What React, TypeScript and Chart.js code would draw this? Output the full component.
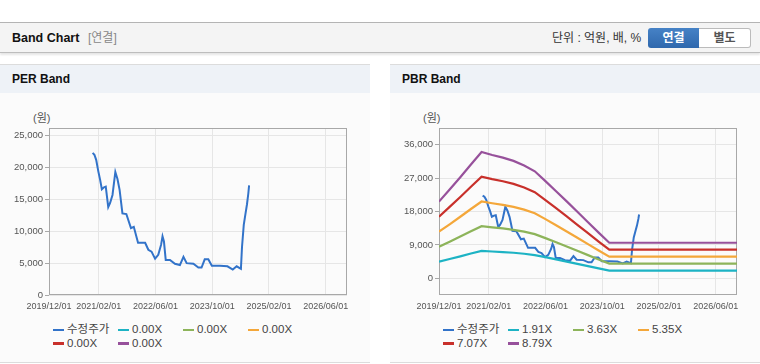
import React, { useEffect, useRef } from "react";
import { Chart, registerables } from "chart.js";

Chart.register(...registerables);

// ---------- data ----------
const xStart = "2019/12/01";
const xEnd = "2026/12/01";
const xTickLabels = ["2019/12/01", "2021/02/01", "2022/06/01", "2023/10/01", "2025/02/01", "2026/06/01"];

const priceDates = [
  "2020/12/10", "2020/12/25", "2021/01/10", "2021/01/28", "2021/02/13", "2021/02/28", "2021/03/16", "2021/04/01",
  "2021/04/22", "2021/05/07", "2021/05/28", "2021/06/22", "2021/07/10", "2021/07/28", "2021/08/22", "2021/09/25",
  "2021/11/04", "2021/11/28", "2022/01/04", "2022/03/04", "2022/04/01", "2022/04/28", "2022/05/28", "2022/06/25",
  "2022/07/19", "2022/08/01", "2022/08/13", "2022/08/28", "2022/10/04", "2022/11/16", "2022/12/28", "2023/01/28",
  "2023/02/25", "2023/04/22", "2023/06/04", "2023/07/01", "2023/07/28", "2023/08/28", "2023/09/28", "2023/12/07",
  "2024/02/10", "2024/03/25", "2024/04/28", "2024/06/04", "2024/06/13", "2024/06/28", "2024/07/13", "2024/07/25",
  "2024/08/07", "2024/08/13",
];
const priceValues = [
  22300, 22000, 21200, 19400, 18100, 16600, 16900, 17000,
  13800, 14400, 15700, 19300, 18200, 16500, 12800, 12700,
  10500, 10700, 8200, 8200, 7100, 6800, 5700, 6300,
  7900, 9200, 8400, 5500, 5500, 4900, 4700, 6000,
  5000, 4900, 4300, 4300, 5600, 5600, 4600, 4600,
  4500, 4000, 4500, 4100, 7500, 11000, 12800, 14200,
  16000, 17200,
];

const bandDates = [
  "2019/12/01", "2020/03/01", "2020/06/01", "2020/09/01", "2020/12/01", "2021/03/01", "2021/06/01", "2021/09/01",
  "2021/12/01", "2022/03/01", "2022/06/01", "2022/09/01", "2022/12/01", "2023/03/01", "2023/06/01", "2023/09/01",
  "2023/12/01", "2026/12/01",
];
const band1 = [4490, 5200, 5920, 6670, 7390, 7220, 7070, 6880, 6610, 6260, 5690, 5100, 4510, 3900, 3290, 2670, 2080, 2080];
const band2 = [8530, 9870, 11250, 12670, 14050, 13720, 13430, 13070, 12560, 11910, 10820, 9690, 8570, 7410, 6240, 5080, 3960, 3960];
const band3 = [12570, 14550, 16590, 18670, 20700, 20220, 19800, 19260, 18510, 17550, 15940, 14280, 12630, 10910, 9200, 7490, 5830, 5830];
const band4 = [16610, 19230, 21920, 24670, 27360, 26720, 26160, 25450, 24460, 23190, 21070, 18880, 16690, 14420, 12160, 9900, 7710, 7710];
const band5 = [20660, 23910, 27250, 30680, 34020, 33230, 32520, 31640, 30410, 28830, 26190, 23470, 20740, 17930, 15120, 12310, 9580, 9580];

const priceLabel = "수정주가";
const perBandLabels = ["0.00X", "0.00X", "0.00X", "0.00X", "0.00X"];
const pbrBandLabels = ["1.91X", "3.63X", "5.35X", "7.07X", "8.79X"];

const perYTicks = [0, 5000, 10000, 15000, 20000, 25000];
const perYRange = [0, 26200];
const pbrYTicks = [0, 9000, 18000, 27000, 36000];
const pbrYRange = [-4500, 40500];

// ---------- styles ----------
const priceColor = "#3273c9";
const bandColors = ["#1db3c4", "#8db45a", "#f4a73a", "#c8302b", "#97519b"];
const FONT = "'Liberation Sans', 'Noto Sans CJK KR', Arial, sans-serif";

function toMonths(d: string): number {
  const [y, m, day] = d.split("/").map(Number);
  const [y0, m0] = xStart.split("/").map(Number);
  return (y - y0) * 12 + (m - m0) + (day - 1) / 30;
}

const frameBorder = {
  id: "frameBorder",
  beforeDatasetsDraw(chart: any) {
    const { ctx, chartArea } = chart;
    const l = Math.round(chartArea.left) + 0.5;
    const t = Math.round(chartArea.top) + 0.5;
    const r = Math.round(chartArea.right) - 0.5;
    const b = Math.round(chartArea.bottom) - 0.5;
    ctx.save();
    ctx.strokeStyle = "#a8a8a8";
    ctx.lineWidth = 1;
    ctx.strokeRect(l, t, r - l, b - t);
    ctx.restore();
  },
};

function makeConfig(bandValues: number[][], yTicks: number[], yRange: number[]) {
  const xTickPos = xTickLabels.map(toMonths);
  const price = priceDates.map((d, i) => ({ x: toMonths(d), y: priceValues[i] }));
  const datasets: any[] = bandValues.map((vals, k) => ({
    data: vals.map((v, i) => ({ x: toMonths(bandDates[i]), y: v })),
    borderColor: bandColors[k],
    borderWidth: 2.2,
    pointRadius: 0,
    tension: 0,
  }));
  datasets.push({
    data: price,
    borderColor: priceColor,
    borderWidth: 2,
    pointRadius: 0,
    tension: 0,
  });
  return {
    type: "line" as const,
    data: { datasets },
    options: {
      responsive: false,
      maintainAspectRatio: false,
      animation: false,
      events: [],
      layout: { padding: { top: 18, right: 23, left: 0, bottom: 0 } },
      plugins: { legend: { display: false }, tooltip: { enabled: false } },
      scales: {
        x: {
          type: "linear",
          min: toMonths(xStart),
          max: toMonths(xEnd),
          afterBuildTicks: (a: any) => {
            a.ticks = xTickPos.map((v) => ({ value: v }));
          },
          afterFit: (s: any) => {
            s.height = 15;
          },
          grid: { color: "#e6e6e6", drawTicks: false },
          border: { display: false },
          ticks: {
            autoSkip: false,
            maxRotation: 0,
            padding: 6,
            color: "#555",
            font: { size: 9, family: FONT },
            callback: (_v: any, i: number) => xTickLabels[i],
          },
        },
        y: {
          type: "linear",
          min: yRange[0],
          max: yRange[1],
          afterBuildTicks: (a: any) => {
            a.ticks = yTicks.map((v) => ({ value: v }));
          },
          afterFit: (s: any) => {
            s.width = 49;
          },
          grid: { color: "#e6e6e6", tickLength: 4, tickColor: "#a8a8a8" },
          border: { display: false },
          ticks: {
            padding: 2,
            color: "#555",
            font: { size: 9.5, family: FONT },
            callback: (v: any) => Number(v).toLocaleString("en-US"),
          },
        },
      },
    },
    plugins: [frameBorder],
  };
}

function ChartCanvas({ config }: { config: any }) {
  const ref = useRef<HTMLCanvasElement | null>(null);
  useEffect(() => {
    if (!ref.current) return;
    const chart = new Chart(ref.current, config);
    return () => chart.destroy();
  }, [config]);
  return (
    <canvas
      ref={ref}
      width={370}
      height={200}
      style={{ position: "absolute", left: 0, top: 46, width: 370, height: 200 }}
    />
  );
}

function Legend({ labels }: { labels: string[] }) {
  const items = [{ label: priceLabel, color: priceColor }].concat(
    labels.map((l, i) => ({ label: l, color: bandColors[i] }))
  );
  return (
    <div style={{ position: "absolute", left: 53, top: 259, width: 264, display: "flex", flexWrap: "wrap" }}>
      {items.map((it, i) => (
        <div key={i} style={{ width: 65, height: 13.5, display: "flex", alignItems: "center", whiteSpace: "nowrap" }}>
          <span style={{ display: "inline-block", width: 11, height: 2.5, background: it.color, marginRight: 3 }} />
          <span style={{ fontSize: 11.5, color: "#444", fontFamily: FONT, lineHeight: "13px" }}>{it.label}</span>
        </div>
      ))}
    </div>
  );
}

function Panel({ left, title, labels, config }: { left: number; title: string; labels: string[]; config: any }) {
  return (
    <div style={{ position: "absolute", left, top: 64, width: 370, height: 299 }}>
      <div style={{ position: "absolute", left: 0, top: 0, width: 370, height: 1, background: "#dcdcdc" }} />
      <div style={{ position: "absolute", left: 0, top: 1, width: 370, height: 28, background: "#eef2f7" }} />
      <div
        style={{
          position: "absolute", left: 12, top: 7, fontSize: 12, fontWeight: "bold", color: "#111",
          fontFamily: FONT, lineHeight: "16px",
        }}
      >
        {title}
      </div>
      <div style={{ position: "absolute", left: 0, top: 29, width: 370, height: 269, background: "#fbfbfb" }} />
      <div style={{ position: "absolute", left: 0, top: 298, width: 370, height: 1, background: "#dcdcdc" }} />
      <div
        style={{
          position: "absolute", left: 33, top: 46, fontSize: 11, color: "#555", fontFamily: FONT, lineHeight: "16px",
        }}
      >
        (원)
      </div>
      <ChartCanvas config={config} />
      <Legend labels={labels} />
    </div>
  );
}

const perConfig = makeConfig([[], [], [], [], []], perYTicks, perYRange);
const pbrConfig = makeConfig([band1, band2, band3, band4, band5], pbrYTicks, pbrYRange);

export default function App() {
  return (
    <div style={{ position: "absolute", left: 0, top: 0, width: 760, height: 364, background: "#fff", overflow: "hidden", fontFamily: FONT }}>
      <div style={{ position: "absolute", left: 0, top: 22, width: 760, height: 1, background: "#b4b4b4" }} />
      <div
        style={{
          position: "absolute", left: 0, top: 23, width: 760, height: 29, background: "#f4f4f4",
          borderBottom: "1px solid #bdbdbd", boxShadow: "0 2px 2px rgba(0,0,0,0.10)",
        }}
      />
      <div style={{ position: "absolute", left: 12, top: 30, fontSize: 12.5, fontWeight: "bold", color: "#111", lineHeight: "16px" }}>
        Band Chart
      </div>
      <div style={{ position: "absolute", left: 88, top: 30, fontSize: 12, color: "#888", lineHeight: "16px" }}>[연결]</div>
      <div style={{ position: "absolute", left: 552, top: 30, fontSize: 12, color: "#333", lineHeight: "16px" }}>
        단위 : 억원, 배, %
      </div>
      <div
        style={{
          position: "absolute", left: 648, top: 28, width: 51, height: 20, borderRadius: "3px 0 0 3px",
          background: "linear-gradient(#4682c6, #2f68ad)", color: "#fff", fontSize: 12, fontWeight: "bold",
          textAlign: "center", lineHeight: "20px", boxSizing: "border-box",
        }}
      >
        연결
      </div>
      <div
        style={{
          position: "absolute", left: 699, top: 28, width: 52, height: 20, borderRadius: "0 3px 3px 0",
          background: "#fff", border: "1px solid #bbb", borderLeft: "none", color: "#555", fontSize: 12,
          fontWeight: "bold", textAlign: "center", lineHeight: "18px", boxSizing: "border-box",
        }}
      >
        별도
      </div>
      <Panel left={0} title="PER Band" labels={perBandLabels} config={perConfig} />
      <Panel left={390} title="PBR Band" labels={pbrBandLabels} config={pbrConfig} />
    </div>
  );
}
